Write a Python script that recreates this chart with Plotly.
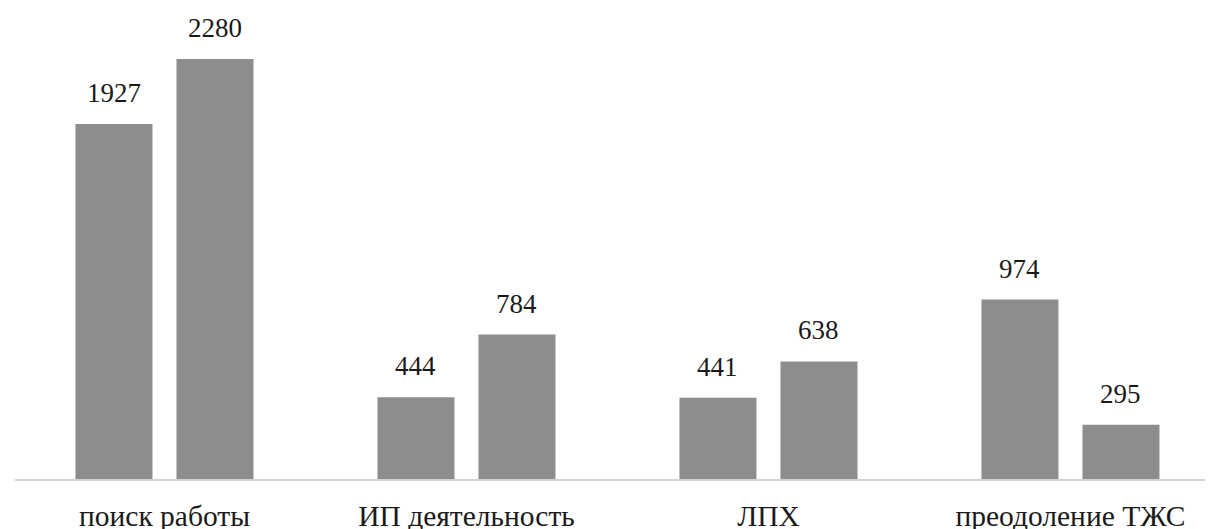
import plotly.graph_objects as go

categories = ["поиск работы", "ИП деятельность", "ЛПХ", "преодоление ТЖС"]
series_a = [1927, 444, 441, 974]
series_b = [2280, 784, 638, 295]

BAR_COLOR = "#8d8d8d"
FONT = "Liberation Serif"

fig = go.Figure()
fig.add_trace(go.Bar(x=categories, y=series_a, marker_color=BAR_COLOR, marker_line_width=0, showlegend=False))
fig.add_trace(go.Bar(x=categories, y=series_b, marker_color=BAR_COLOR, marker_line_width=0, showlegend=False))

bargap = 0.331
bargroupgap = 0.2377
slot = (1 - bargap) / 2

annotations = []
for i, (a, b) in enumerate(zip(series_a, series_b)):
    for off, v in ((-slot / 2, a), (slot / 2, b)):
        annotations.append(dict(
            x=i + off, y=v, xref="x", yref="y", text=str(v), showarrow=False,
            yanchor="bottom", yshift=14,
            font=dict(family=FONT, size=27, color="#1a1a1a"),
        ))

fig.update_layout(
    width=1205, height=521,
    margin=dict(l=7, r=0, t=2, b=50),
    paper_bgcolor="white", plot_bgcolor="white",
    barmode="group", bargap=bargap, bargroupgap=bargroupgap,
    annotations=annotations,
    font=dict(family=FONT, size=27, color="#1a1a1a"),
    xaxis=dict(
        type="category", range=[-0.495, 3.472],
        showline=True, linecolor="#d2d2d2", linewidth=2,
        showgrid=False, ticks="", ticklabelstandoff=10,
        tickfont=dict(family=FONT, size=29.5, color="#1a1a1a"),
        automargin=False,
    ),
    yaxis=dict(range=[0, 2546], visible=False, showgrid=False, zeroline=False),
)

fig.write_html("out.html")
